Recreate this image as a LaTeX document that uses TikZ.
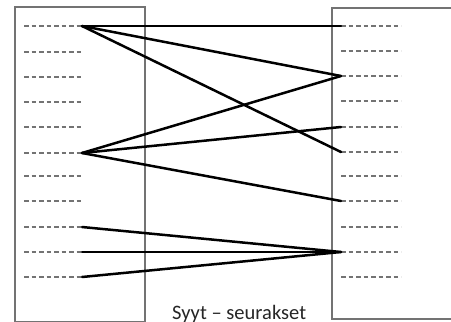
\documentclass[tikz,border=0pt]{standalone}
\usepackage{fontspec}
\setmainfont{Carlito}
\usetikzlibrary{calc}

\begin{document}
\begin{tikzpicture}[
    x=1pt,
    y=-1pt,
    column/.style={
        draw=black!55,
        line width=1.3pt
    },
    slot/.style={
        draw=black!55,
        line width=1.2pt,
        dash pattern=on 4.8pt off 2.7pt
    },
    link/.style={
        draw=black,
        line width=2.5pt,
        line cap=round,
        line join=round
    },
    caption/.style={
        font=\fontsize{20.5}{24}\selectfont,
        text=black!85,
        inner sep=0pt,
        anchor=base west
    }
]

\clip (0,0) rectangle (451,322);
\fill[white] (0,0) rectangle (451,322);

% =====================================================
% Columns
% =====================================================

\draw[column] (15,7) rectangle (145,322);
\draw[column] (332,8) rectangle (470,319);

% =====================================================
% Slots (left column)
% =====================================================

\coordinate (L1)  at (82,26);
\coordinate (L2)  at (82,52);
\coordinate (L3)  at (82,77);
\coordinate (L4)  at (82,102);
\coordinate (L5)  at (82,127);
\coordinate (L6)  at (82,153);
\coordinate (L7)  at (82,176);
\coordinate (L8)  at (82,201);
\coordinate (L9)  at (82,227);
\coordinate (L10) at (82,252);
\coordinate (L11) at (82,277);

\draw[slot] ($(L1)+(-58,0)$) -- (L1);
\draw[slot] ($(L2)+(-58,0)$) -- (L2);
\draw[slot] ($(L3)+(-58,0)$) -- (L3);
\draw[slot] ($(L4)+(-58,0)$) -- (L4);
\draw[slot] ($(L5)+(-58,0)$) -- (L5);
\draw[slot] ($(L6)+(-58,0)$) -- (L6);
\draw[slot] ($(L7)+(-58,0)$) -- (L7);
\draw[slot] ($(L8)+(-58,0)$) -- (L8);
\draw[slot] ($(L9)+(-58,0)$) -- (L9);
\draw[slot] ($(L10)+(-58,0)$) -- (L10);
\draw[slot] ($(L11)+(-58,0)$) -- (L11);

% =====================================================
% Slots (right column)
% =====================================================

\coordinate (R1)  at (341,26);
\coordinate (R2)  at (341,51);
\coordinate (R3)  at (341,76);
\coordinate (R4)  at (341,101);
\coordinate (R5)  at (341,127);
\coordinate (R6)  at (341,152);
\coordinate (R7)  at (341,176);
\coordinate (R8)  at (341,201);
\coordinate (R9)  at (341,227);
\coordinate (R10) at (341,252);
\coordinate (R11) at (341,277);

\draw[slot] (R1) -- ($(R1)+(60,0)$);
\draw[slot] (R2) -- ($(R2)+(60,0)$);
\draw[slot] (R3) -- ($(R3)+(60,0)$);
\draw[slot] (R4) -- ($(R4)+(60,0)$);
\draw[slot] (R5) -- ($(R5)+(60,0)$);
\draw[slot] (R6) -- ($(R6)+(60,0)$);
\draw[slot] (R7) -- ($(R7)+(60,0)$);
\draw[slot] (R8) -- ($(R8)+(60,0)$);
\draw[slot] (R9) -- ($(R9)+(60,0)$);
\draw[slot] (R10) -- ($(R10)+(60,0)$);
\draw[slot] (R11) -- ($(R11)+(60,0)$);

% =====================================================
% Links
% =====================================================

\draw[link] (L1) -- (R1);
\draw[link] (L1) -- (R3);
\draw[link] (L1) -- (R6);

\draw[link] (L6) -- (R3);
\draw[link] (L6) -- (R5);
\draw[link] (L6) -- (R8);

\draw[link] (L9) -- (R10);
\draw[link] (L10) -- (R10);
\draw[link] (L11) -- (R10);

% =====================================================
% Caption
% =====================================================

\node[caption] (cap) at (172,319) {Syyt – seurakset};

\end{tikzpicture}
\end{document}
